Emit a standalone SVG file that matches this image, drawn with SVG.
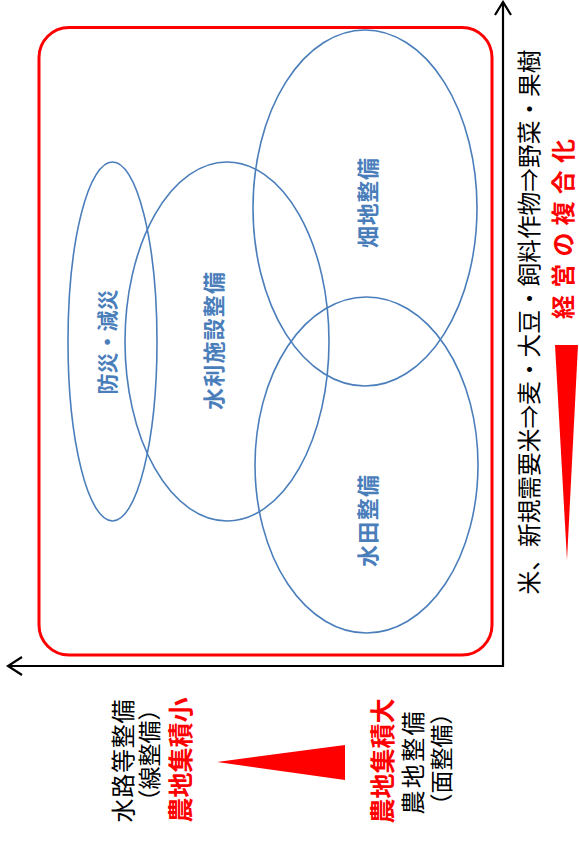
<svg xmlns="http://www.w3.org/2000/svg" width="579" height="841" viewBox="0 0 579 841">
<style>
.ax{fill:none;stroke:#000;stroke-width:2.2}
.ell{fill:none;stroke:#4a7ebb;stroke-width:1.6}
.lbl{font-family:"Noto Sans CJK JP","Noto Sans CJK SC",sans-serif;font-weight:bold;fill:#4a7ebb;font-size:22px}
.t{font-family:"Noto Sans CJK JP","Noto Sans CJK SC",sans-serif;fill:#000;font-size:24px}
.r{font-family:"Noto Sans CJK JP","Noto Sans CJK SC",sans-serif;font-weight:bold;fill:#ff0000;font-size:24px}
</style>
<rect width="579" height="841" fill="#fff"/>
<g id="frame">
<rect x="39" y="27.5" width="453" height="627.5" rx="30" ry="30" fill="none" stroke="#ff0000" stroke-width="3"/>
</g>
<g id="connectors">
<polyline class="ax" points="503,2 503,666 8,666"/>
<polyline class="ax" points="495,15 503,2 511,15"/>
<polyline class="ax" points="22,657 8,666 22,675"/>
</g>
<g id="bousai">
<ellipse class="ell" cx="112.5" cy="341.5" rx="44.5" ry="179.5"/>
<text class="lbl" style="font-size:21px" transform="translate(106,342) rotate(-90)" text-anchor="middle" dominant-baseline="central">防災・減災</text>
</g>
<g id="suiri">
<ellipse class="ell" cx="227" cy="341.5" rx="102" ry="179.5"/>
<text class="lbl" transform="translate(212,341) rotate(-90)" text-anchor="middle" dominant-baseline="central" textLength="138" lengthAdjust="spacing">水利施設整備</text>
</g>
<g id="hatachi">
<ellipse class="ell" cx="365" cy="208" rx="112" ry="178"/>
<text class="lbl" transform="translate(366,203) rotate(-90)" text-anchor="middle" dominant-baseline="central" textLength="90" lengthAdjust="spacing">畑地整備</text>
</g>
<g id="suiden">
<ellipse class="ell" cx="366.5" cy="465" rx="111.5" ry="168"/>
<text class="lbl" transform="translate(366,521) rotate(-90)" text-anchor="middle" dominant-baseline="central" textLength="92" lengthAdjust="spacing">水田整備</text>
</g>
<g id="y-axis-label">
<text class="t" style="font-size:23.7px" transform="translate(528,322) rotate(-90)" text-anchor="middle" dominant-baseline="central">米、新規需要米⇒麦・大豆・飼料作物⇒野菜・果樹</text>
<text class="r" transform="translate(561,229) rotate(-90)" text-anchor="middle" dominant-baseline="central" textLength="180" lengthAdjust="spacing">経営の複合化</text>
<polygon points="555,345 578,345 567,560" fill="#ff0000"/>
</g>
<g id="x-axis-label">
<text class="t" transform="translate(121,761) rotate(-90)" text-anchor="middle" dominant-baseline="central" textLength="123" lengthAdjust="spacing">水路等整備</text>
<text class="t" style="font-size:23px" transform="translate(148,755) rotate(-90)" text-anchor="middle" dominant-baseline="central">（線整備）</text>
<text class="r" style="font-size:25px" transform="translate(179,760) rotate(-90)" text-anchor="middle" dominant-baseline="central">農地集積小</text>
<polygon points="217,762 345,745 345,780" fill="#ff0000"/>
<text class="r" style="font-size:25px" transform="translate(381,761) rotate(-90)" text-anchor="middle" dominant-baseline="central">農地集積大</text>
<text class="t" transform="translate(411,763) rotate(-90)" text-anchor="middle" dominant-baseline="central" textLength="103" lengthAdjust="spacing">農地整備</text>
<text class="t" style="font-size:23px" transform="translate(440,759) rotate(-90)" text-anchor="middle" dominant-baseline="central">（面整備）</text>
</g>
</svg>
